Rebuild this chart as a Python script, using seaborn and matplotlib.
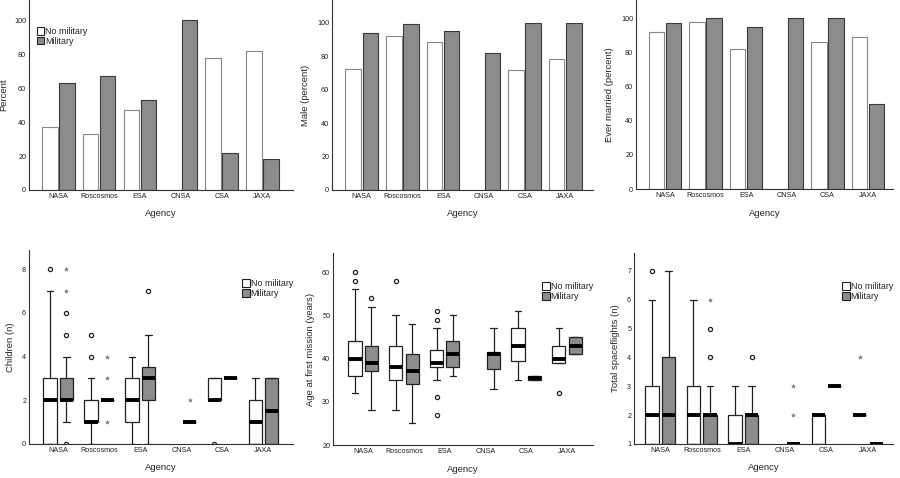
import numpy as np
import pandas as pd
import matplotlib.pyplot as plt
import seaborn as sns
from matplotlib.patches import Patch

agencies = ['NASA', 'Roscosmos', 'ESA', 'CNSA', 'CSA', 'JAXA']
groups = ['No military', 'Military']

# top row: bar charts (percent)
pct_nomil = [37, 33, 47, 0, 78, 82]
pct_mil = [63, 67, 53, 100, 22, 18]
male_nomil = [72, 92, 88.5, np.nan, 71.5, 78]
male_mil = [94, 99, 95, 82, 100, 100]
married_nomil = [92, 98, 82, np.nan, 86, 89]
married_mil = [97, 100, 95, 100, 100, 50]

# bottom row: box plots -> (whisker low, q1, median, q3, whisker high)
children_nomil = [(0, 0, 2, 3, 7), (0, 1, 1, 2, 3), (0, 1, 2, 3, 4), None, (2, 2, 2, 3, 3), (0, 0, 1, 2, 3)]
children_nomil_out = [[8], [4, 5], [], [], [0], []]
children_nomil_ext = [[], [], [], [], [], []]
children_mil = [(1, 2, 2, 3, 4), (2, 2, 2, 2, 2), (0, 2, 3, 3.5, 5), (1, 1, 1, 1, 1), (3, 3, 3, 3, 3), (0, 0, 1.5, 3, 3)]
children_mil_out = [[0, 5, 6], [], [7], [], [], []]
children_mil_ext = [[7, 8], [1, 3, 4], [], [2], [], []]

age_nomil = [(32, 36, 40, 44, 56), (28, 35, 38, 43, 50), (35, 38, 39, 42, 47), None, (35, 39.5, 43, 47, 51), (39, 39, 40, 43, 47)]
age_nomil_out = [[58, 60], [58], [27, 31, 49, 51], [], [], [32]]
age_nomil_ext = [[], [], [], [], [], []]
age_mil = [(28, 37, 39, 43, 52), (25, 34, 37, 41, 48), (36, 38, 41, 44, 50), (33, 37.5, 41, 41.5, 47), (35, 35, 35.5, 36, 36), (41, 41, 43, 45, 45)]
age_mil_out = [[54], [], [], [], [], []]
age_mil_ext = [[], [], [], [], [], []]

flights_nomil = [(1, 1, 2, 3, 6), (1, 1, 2, 3, 6), (1, 1, 1, 2, 3), None, (1, 1, 2, 2, 2), (2, 2, 2, 2, 2)]
flights_nomil_out = [[7], [], [], [], [], []]
flights_nomil_ext = [[], [], [], [], [], [4]]
flights_mil = [(1, 1, 2, 4, 7), (1, 1, 2, 2, 3), (1, 1, 2, 2, 3), (1, 1, 1, 1, 1), (3, 3, 3, 3, 3), (1, 1, 1, 1, 1)]
flights_mil_out = [[], [4, 5], [4], [], [], []]
flights_mil_ext = [[], [6], [], [2, 3], [], []]

GRAY = '#8c8c8c'

sns.set_style('ticks')
plt.rcParams['font.family'] = ['Liberation Sans', 'DejaVu Sans']
plt.rcParams['axes.linewidth'] = 0.8
plt.rcParams['axes.edgecolor'] = '#333333'

fig = plt.figure(figsize=(9, 4.78), dpi=100)


def make_ax(l, r, t, b):
    return fig.add_axes([l / 900, 1 - b / 478, (r - l) / 900, (b - t) / 478])


def style_ax(ax, ylabel, ylim, xlim, yticks, ypad=5):
    sns.despine(ax=ax)
    ax.set_xlim(*xlim)
    ax.set_ylim(*ylim)
    ax.set_yticks(yticks)
    ax.set_xticks(range(len(agencies)))
    ax.set_xticklabels(agencies)
    ax.tick_params(length=0, labelsize=5.2, pad=2, colors='#222222')
    ax.set_xlabel('Agency', fontsize=6.8, labelpad=7)
    ax.set_ylabel(ylabel, fontsize=6.8, labelpad=ypad)


def make_legend(ax, loc, anchor):
    handles = [Patch(facecolor='white', edgecolor='#222222', lw=0.8),
               Patch(facecolor=GRAY, edgecolor='#222222', lw=0.8)]
    ax.legend(handles, groups, loc=loc, bbox_to_anchor=anchor,
              frameon=False, fontsize=6.4, handlelength=0.85, handleheight=1.0,
              handletextpad=0.1, labelspacing=0.1, borderaxespad=0, borderpad=0)


def bar_panel(ax, nomil, mil, ylabel, ylim, xlim, legend=False, ypad=5):
    df = pd.DataFrame({
        'Agency': agencies * 2,
        'group': [groups[0]] * 6 + [groups[1]] * 6,
        'value': list(nomil) + list(mil),
    })
    sns.barplot(data=df, x='Agency', y='value', hue='group', order=agencies,
                hue_order=groups, palette={groups[0]: 'white', groups[1]: GRAY},
                width=0.84, gap=0.1, errorbar=None, ax=ax, legend=False)
    for bar in ax.containers[0]:
        bar.set_edgecolor('#888888')
        bar.set_linewidth(0.8)
    for bar in ax.containers[1]:
        bar.set_edgecolor('#3a3a3a')
        bar.set_linewidth(0.8)
    style_ax(ax, ylabel, ylim, xlim, [0, 20, 40, 60, 80, 100], ypad)
    if legend:
        make_legend(ax, 'upper left', (0.03, 0.86))


def box_panel(ax, nomil, nomil_out, nomil_ext, mil, mil_out, mil_ext,
              ylabel, ylim, xlim, yticks, ypad=5):
    for stats_list, outs, exts, off, fc in [(nomil, nomil_out, nomil_ext, -0.2, 'white'),
                                             (mil, mil_out, mil_ext, 0.2, GRAY)]:
        stats, pos = [], []
        for i, s in enumerate(stats_list):
            if s is None:
                continue
            lo, q1, med, q3, hi = s
            stats.append(dict(whislo=lo, q1=q1, med=med, q3=q3, whishi=hi, fliers=outs[i]))
            pos.append(i + off)
            if exts[i]:
                ax.plot([i + off] * len(exts[i]), exts[i], ls='none', marker='*',
                        ms=3, color='#777777', mew=0.3, zorder=4)
        ax.bxp(stats, positions=pos, widths=0.32, capwidths=0.16, patch_artist=True,
               boxprops=dict(facecolor=fc, edgecolor='#222222', lw=0.9),
               medianprops=dict(color='black', lw=2.8, solid_capstyle='butt'),
               whiskerprops=dict(color='#222222', lw=0.9),
               capprops=dict(color='#222222', lw=0.9),
               flierprops=dict(marker='o', ms=3, mfc='white', mec='#222222', mew=0.9),
               manage_ticks=False)
    style_ax(ax, ylabel, ylim, xlim, yticks, ypad)
    make_legend(ax, 'upper right', (1.0, 0.85))


ax1 = make_ax(29, 293, 0, 190)
bar_panel(ax1, pct_nomil, pct_mil, 'Percent', (0, 112), (-0.72, 5.75), legend=True, ypad=4)
ax2 = make_ax(332, 593, 0, 190)
bar_panel(ax2, male_nomil, male_mil, 'Male (percent)', (0, 113.5), (-0.73, 5.68))
ax3 = make_ax(636, 893, 0, 189)
bar_panel(ax3, married_nomil, married_mil, 'Ever married (percent)', (0, 110.7), (-0.71, 5.61))

ax4 = make_ax(29, 293, 250, 444)
box_panel(ax4, children_nomil, children_nomil_out, children_nomil_ext,
          children_mil, children_mil_out, children_mil_ext,
          'Children (n)', (0, 8.87), (-0.71, 5.72), [0, 2, 4, 6, 8])
ax5 = make_ax(333, 593, 253, 445)
box_panel(ax5, age_nomil, age_nomil_out, age_nomil_ext,
          age_mil, age_mil_out, age_mil_ext,
          'Age at first mission (years)', (20, 64.4), (-0.74, 5.64), [20, 30, 40, 50, 60])
ax6 = make_ax(634, 893, 253, 444)
box_panel(ax6, flights_nomil, flights_nomil_out, flights_nomil_ext,
          flights_mil, flights_mil_out, flights_mil_ext,
          'Total spaceflights (n)', (1, 7.62), (-0.63, 5.6), [1, 2, 3, 4, 5, 6, 7])

fig.savefig('out.png', dpi=100, facecolor='white')
